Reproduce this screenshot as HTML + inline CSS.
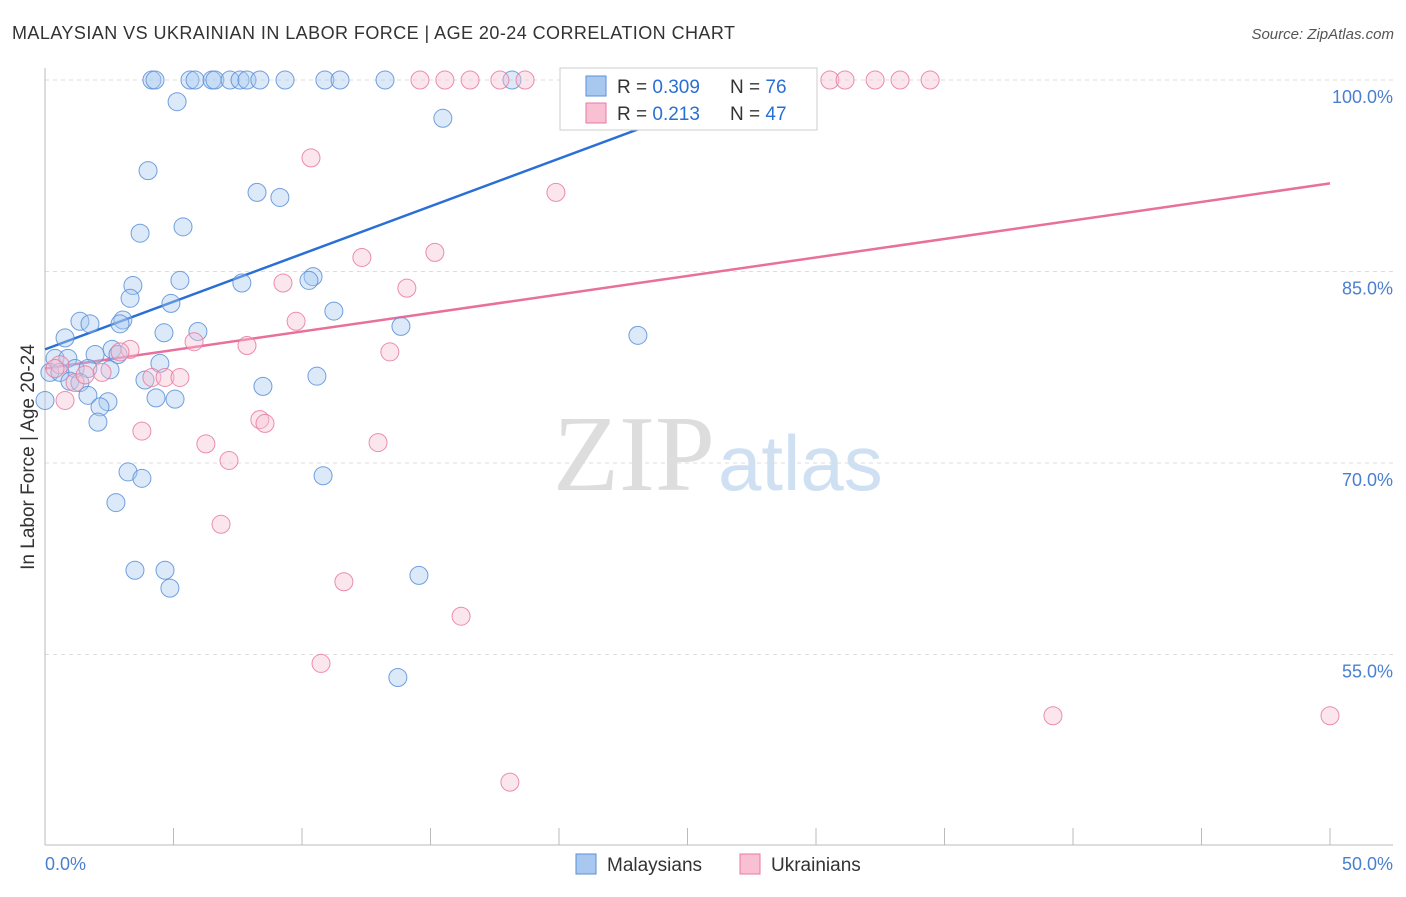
<!DOCTYPE html>
<html><head><meta charset="utf-8"><style>
body{margin:0;background:#fff;font-family:"Liberation Sans",sans-serif}
</style></head><body>
<svg id="c" width="1406" height="892" viewBox="0 0 1406 892" xmlns="http://www.w3.org/2000/svg">
<text x="12" y="39" font-size="18" fill="#333" textLength="723" lengthAdjust="spacing">MALAYSIAN VS UKRAINIAN IN LABOR FORCE | AGE 20-24 CORRELATION CHART</text>
<text x="1394" y="39" font-size="15" fill="#555" font-style="italic" text-anchor="end">Source: ZipAtlas.com</text>
<text x="553" y="490" font-size="108" fill="#ddd" font-family="Liberation Serif">ZIP</text>
<text x="718" y="490" font-size="78" fill="#cfe0f3">atlas</text>
<g id="grid"></g><g id="axes"></g><g id="lines"></g><g id="pts"></g>
<text transform="translate(34,457) rotate(-90)" font-size="19" fill="#333" text-anchor="middle">In Labor Force | Age 20-24</text>
<text x="45" y="870" font-size="18" fill="#4a7fd0">0.0%</text>
<text x="1393" y="870" font-size="18" fill="#4a7fd0" text-anchor="end">50.0%</text>
<g>
<rect x="560" y="68" width="257" height="62" fill="#fff" stroke="#ccc"/>
<rect x="586" y="76" width="20" height="20" fill="#a8c8f0" stroke="#5b8fd8"/>
<rect x="586" y="103" width="20" height="20" fill="#f8c0d2" stroke="#e87aa0"/>
<text x="617" y="93" font-size="19" fill="#333">R = <tspan fill="#2a6fd6">0.309</tspan></text>
<text x="730" y="93" font-size="19" fill="#333">N = <tspan fill="#2a6fd6">76</tspan></text>
<text x="617" y="120" font-size="19" fill="#333">R = <tspan fill="#2a6fd6"> 0.213</tspan></text>
<text x="730" y="120" font-size="19" fill="#333">N = <tspan fill="#2a6fd6">47</tspan></text>
</g>
<g>
<rect x="576" y="854" width="20" height="20" fill="#a8c8f0" stroke="#5b8fd8"/>
<text x="607" y="871" font-size="19" fill="#333">Malaysians</text>
<rect x="740" y="854" width="20" height="20" fill="#f8c0d2" stroke="#e87aa0"/>
<text x="771" y="871" font-size="19" fill="#333">Ukrainians</text>
</g>
</svg>
<script>
const yTicks=[100,85,70,55];
const yTickLabels=["100.0%","85.0%","70.0%","55.0%"];
const blueX=[4.16,4.28,5.64,5.84,6.5,6.61,7.2,7.59,7.86,8.36,9.34,10.89,11.48,13.23,18.17,20.54,5.14,15.48,4.01,8.25,9.14,3.7,5.37,3.42,5.25,7.66,10.43,10.27,3.31,4.9,11.24,1.36,1.75,3.03,2.92,4.63,5.95,13.85,23.07,0.78,0.39,0.89,1.95,2.61,2.84,4.47,1.17,1.67,2.53,0.19,0.58,3.89,0.97,1.36,8.48,10.58,1.67,4.32,5.06,2.45,2.14,0,2.06,3.23,3.77,10.82,2.76,3.5,4.67,4.86,14.55,13.73];
const blueY=[100,100,100,100,100,100,100,100,100,100,100,100,100,100,100,100,98.3,97,92.9,91.2,90.8,88,88.5,83.9,84.3,84.1,84.6,84.3,82.9,82.5,81.9,81.1,80.9,81.2,80.9,80.2,80.3,80.7,80,79.8,78.2,78.2,78.5,78.9,78.5,77.8,77.4,77.4,77.3,77.1,77.1,76.5,76.4,76.3,76,76.8,75.3,75.1,75,74.8,74.4,74.9,73.2,69.3,68.8,69,66.9,61.6,61.6,60.2,61.2,53.2];
const pinkX=[14.59,15.56,16.54,17.7,18.68,23.54,25.68,30.54,31.13,32.3,33.27,34.44,10.35,19.88,15.17,12.33,9.26,14.08,9.77,5.8,7.86,13.42,3.31,2.92,0.58,2.22,0.39,1.17,4.16,4.67,5.25,0.78,8.36,8.56,3.77,6.26,12.96,7.16,6.85,11.63,16.19,10.74,39.22,50,18.09,1.56];
const pinkY=[100,100,100,100,100,100,100,100,100,100,100,100,93.9,91.2,86.5,86.1,84.1,83.7,81.1,79.5,79.2,78.7,78.9,78.7,77.7,77.1,77.4,76.3,76.7,76.7,76.7,74.9,73.4,73.1,72.5,71.5,71.6,70.2,65.2,60.7,58,54.3,50.2,50.2,45,76.9];
const blueTrend=[[0,78.9],[25.1,97.65]];
const pinkTrend=[[0,77.4],[50,91.9]];
const NS="http://www.w3.org/2000/svg";
const sx=v=>45+v/50*1285, sy=v=>80+(100-v)/15*191.5;
function mk(t,a,p){const e=document.createElementNS(NS,t);for(const k in a)e.setAttribute(k,a[k]);document.getElementById(p).appendChild(e);return e;}
yTicks.forEach((t,i)=>{
 const l=mk('line',{x1:45,x2:1393,y1:sy(t),y2:sy(t),stroke:'#ddd','stroke-dasharray':'4,4'},'grid');
 
 
 const tx=mk('text',{x:1393,y:sy(t)+23,'font-size':18,fill:'#4a7fd0','text-anchor':'end'},'axes');
 tx.textContent=yTickLabels[i];
 
 
});
const ax=mk('line',{x1:45,x2:45,y1:68,y2:845,stroke:'#bbb'},'axes');


const bx=mk('line',{x1:45,x2:1393,y1:845,y2:845,stroke:'#bbb'},'axes');


for(let i=0;i<=10;i++){const t=mk('line',{x1:sx(i*5),x2:sx(i*5),y1:828,y2:845,stroke:'#bbb'},'axes');
 
 }
function pts(X,Y,f,s,n){X.forEach((x,i)=>{const c=mk('circle',{cx:sx(x),cy:sy(Y[i]),r:9,fill:f,'fill-opacity':0.4,stroke:s,'stroke-width':1,'stroke-opacity':0.85},'pts');
 
 });}
pts(blueX,blueY,'#a8c8f0','#5b8fd8','malaysian-point');
pts(pinkX,pinkY,'#f8c0d2','#e87aa0','ukrainian-point');
const bl=mk('line',{x1:sx(blueTrend[0][0]),y1:sy(blueTrend[0][1]),x2:sx(blueTrend[1][0]),y2:sy(blueTrend[1][1]),stroke:'#2a6fd6','stroke-width':2.5},'lines');


const pl=mk('line',{x1:sx(pinkTrend[0][0]),y1:sy(pinkTrend[0][1]),x2:sx(pinkTrend[1][0]),y2:sy(pinkTrend[1][1]),stroke:'#e8709a','stroke-width':2.5},'lines');


</script>
</body></html>
